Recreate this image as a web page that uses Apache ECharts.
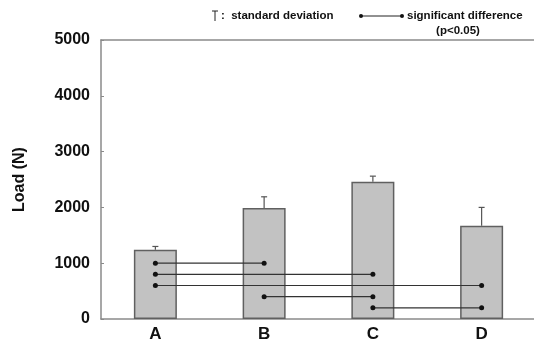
<!DOCTYPE html>
<html>
<head>
<meta charset="utf-8">
<script src="https://cdn.jsdelivr.net/npm/echarts@6/dist/echarts.min.js"></script>
<style>
  html, body { margin: 0; padding: 0; background: #fff; }
  #chart { width: 534px; height: 349px; }
</style>
</head>
<body>
<div id="chart"></div>
<script>
var categories = ['A', 'B', 'C', 'D'];
var means = [1240, 1990, 2460, 1670];
var sds = [60, 200, 100, 330];
var yTicks = [0, 1000, 2000, 3000, 4000, 5000];
// pairs with a significant difference: [from, to, height of the line]
var sigFrom = [0, 0, 0, 1, 2];
var sigTo = [1, 2, 3, 2, 3];
var sigY = [1000, 800, 600, 400, 200];

var font = 'Liberation Sans, Arial, sans-serif';
var axisColor = '#8a8a8a';

var errData = means.map(function (m, i) { return [i, m, sds[i]]; });
var sigData = sigFrom.map(function (f, i) { return [f, sigTo[i], sigY[i]]; });

var myChart = echarts.init(document.getElementById('chart'));
myChart.setOption({
  animation: false,
  grid: {
    left: 101,
    top: 40,
    bottom: 30,
    width: 435,
    outerBoundsMode: 'none'
  },
  xAxis: [{
    type: 'category',
    data: categories,
    axisLine: { lineStyle: { color: axisColor, width: 1.5 } },
    axisTick: { inside: true, length: 3, lineStyle: { color: axisColor } },
    axisLabel: {
      margin: 7,
      color: '#111',
      fontFamily: font,
      fontWeight: 'bold',
      fontSize: 17
    }
  }, {
    // plain frame line along the top
    type: 'category',
    position: 'top',
    data: categories,
    axisLine: { show: true, lineStyle: { color: axisColor, width: 1.5 } },
    axisTick: { show: false },
    axisLabel: { show: false }
  }],
  yAxis: {
    type: 'value',
    min: yTicks[0],
    max: yTicks[yTicks.length - 1],
    interval: 1000,
    name: 'Load (N)',
    nameLocation: 'middle',
    nameRotate: 90,
    nameGap: 73,
    nameTextStyle: { color: '#111', fontFamily: font, fontWeight: 'bold', fontSize: 16 },
    axisLine: { show: true, lineStyle: { color: axisColor, width: 1.5 } },
    axisTick: { show: true, inside: true, length: 3, lineStyle: { color: axisColor } },
    splitLine: { show: false },
    axisLabel: {
      margin: 11,
      color: '#111',
      fontFamily: font,
      fontWeight: 'bold',
      fontSize: 16,
      formatter: function (v) { return String(v); }
    }
  },
  graphic: [
    // legend: standard deviation
    { type: 'line', shape: { x1: 215, y1: 11, x2: 215, y2: 21 }, style: { stroke: '#222', lineWidth: 1 } },
    { type: 'line', shape: { x1: 212, y1: 11, x2: 218, y2: 11 }, style: { stroke: '#222', lineWidth: 1 } },
    { type: 'text', x: 221, y: 16, style: { text: ':  standard deviation', fill: '#111', font: 'bold 11.5px ' + font, textVerticalAlign: 'middle' } },
    // legend: significant difference
    { type: 'line', shape: { x1: 361, y1: 16, x2: 402, y2: 16 }, style: { stroke: '#222', lineWidth: 1 } },
    { type: 'circle', shape: { cx: 361, cy: 16, r: 2 }, style: { fill: '#111' } },
    { type: 'circle', shape: { cx: 402, cy: 16, r: 2 }, style: { fill: '#111' } },
    { type: 'text', x: 407, y: 16, style: { text: 'significant difference', fill: '#111', font: 'bold 11.5px ' + font, textVerticalAlign: 'middle' } },
    { type: 'text', x: 458, y: 31, style: { text: '(p<0.05)', fill: '#111', font: 'bold 11.5px ' + font, textAlign: 'center', textVerticalAlign: 'middle' } }
  ],
  series: [{
    type: 'bar',
    data: means,
    barWidth: 43,
    itemStyle: { color: '#c2c2c2', borderColor: '#606060', borderWidth: 1.5 },
    z: 2
  }, {
    type: 'custom',
    data: errData,
    z: 3,
    renderItem: function (params, api) {
      var base = api.coord([api.value(0), api.value(1)]);
      var top = api.coord([api.value(0), api.value(1) + api.value(2)]);
      var s = { stroke: '#555', lineWidth: 1.2 };
      return {
        type: 'group',
        children: [
          { type: 'line', shape: { x1: base[0], y1: base[1], x2: top[0], y2: top[1] }, style: s },
          { type: 'line', shape: { x1: top[0] - 3, y1: top[1], x2: top[0] + 3, y2: top[1] }, style: s }
        ]
      };
    }
  }, {
    type: 'custom',
    data: sigData,
    z: 4,
    renderItem: function (params, api) {
      var p1 = api.coord([api.value(0), api.value(2)]);
      var p2 = api.coord([api.value(1), api.value(2)]);
      return {
        type: 'group',
        children: [
          { type: 'line', shape: { x1: p1[0], y1: p1[1], x2: p2[0], y2: p2[1] }, style: { stroke: '#333', lineWidth: 1.2 } },
          { type: 'circle', shape: { cx: p1[0], cy: p1[1], r: 2.5 }, style: { fill: '#111' } },
          { type: 'circle', shape: { cx: p2[0], cy: p2[1], r: 2.5 }, style: { fill: '#111' } }
        ]
      };
    }
  }]
});
</script>
</body>
</html>
